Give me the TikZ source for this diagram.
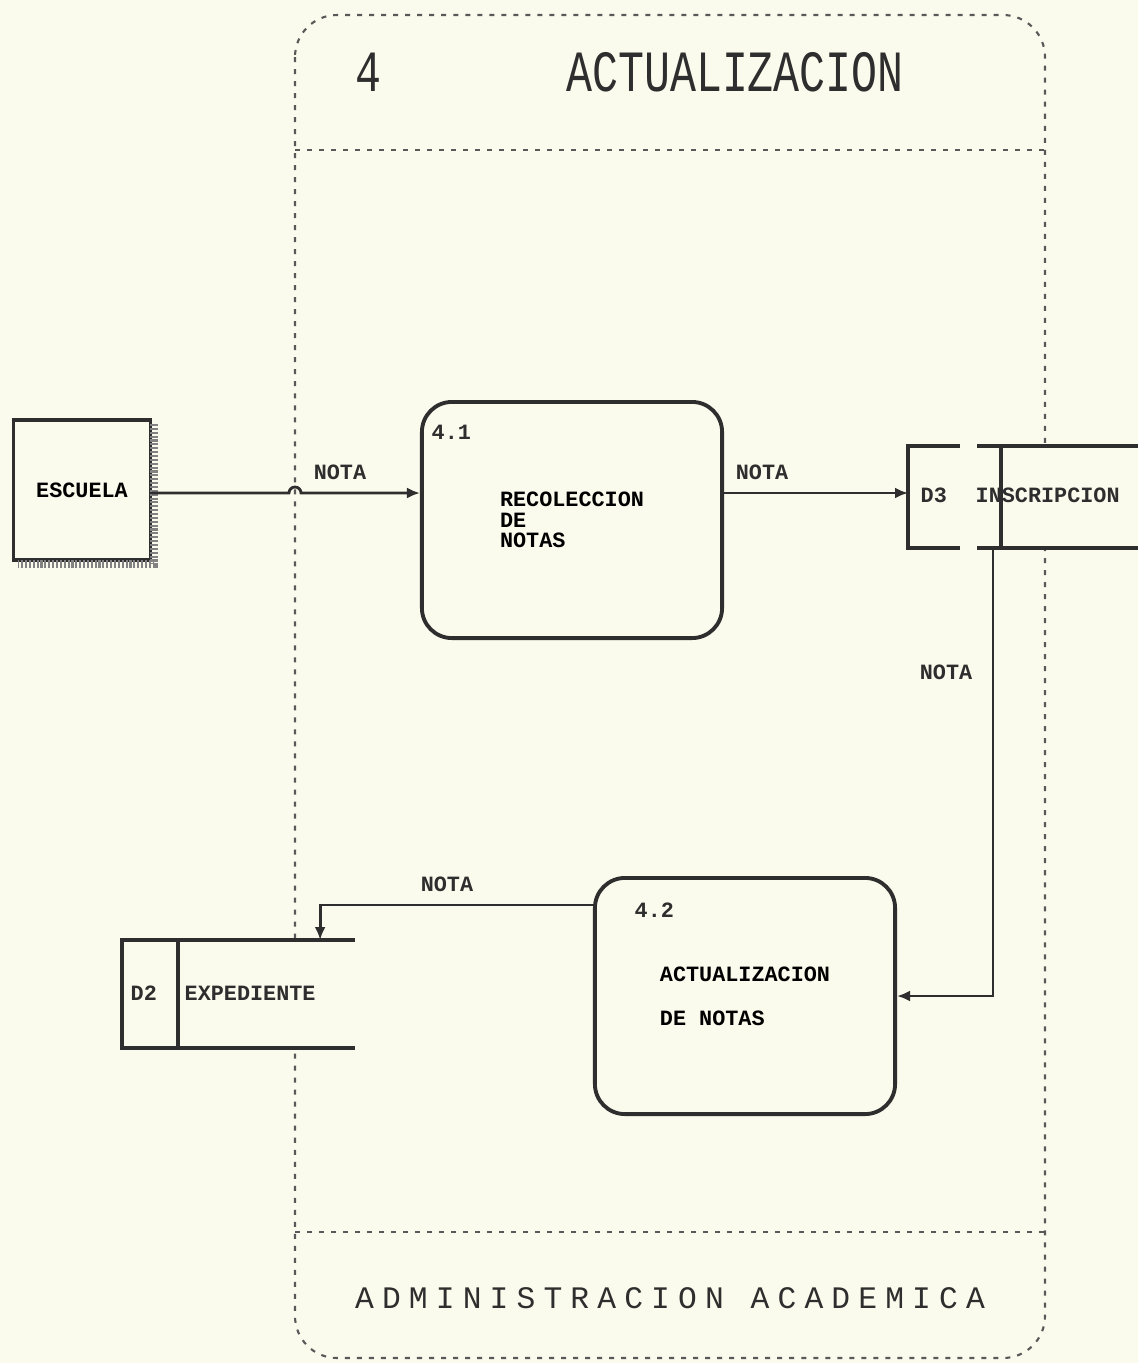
\documentclass[tikz,border=0pt]{standalone}
\usepackage{fontspec}
\setmonofont{Liberation Mono}
\newfontfamily\spacedtt[LetterSpace=26]{Liberation Mono}
\usepackage{xcolor}
\definecolor{paper}{rgb}{0.98,0.98,0.93}
\definecolor{ink}{rgb}{0.18,0.18,0.18}
\definecolor{dashink}{rgb}{0.35,0.35,0.35}
\usetikzlibrary{arrows.meta,positioning}

\begin{document}
\begin{tikzpicture}[x=0.01cm, y=-0.01cm,
      proc/.style={draw=ink, line width=1.1pt, fill=paper, rounded corners=0.3cm,
                   minimum width=3cm, minimum height=2.36cm,
                   font=\ttfamily\bfseries\fontsize{6.2}{5.8}\selectfont, align=left},
      ent/.style={draw=ink, line width=0.9pt, fill=paper,
                  minimum width=1.37cm, minimum height=1.4cm,
                  font=\ttfamily\bfseries\fontsize{6.2}{7}\selectfont},
      store/.style={fill=paper, inner sep=0pt, outer sep=0pt, anchor=north west},
      txt/.style={font=\ttfamily\bfseries\fontsize{6.2}{7}\selectfont, text=ink, inner sep=0pt},
      bound/.style={draw=dashink, line width=0.6pt, dash pattern=on 0.05cm off 0.07cm},
      sline/.style={draw=ink, line width=1.1pt},
      arr/.style={-{Latex[length=0.13cm, width=0.11cm]}, draw=ink, line width=0.8pt}
  ]
    % paper and page size
    \fill[paper] (0,0) rectangle (1138,1363);
    \useasboundingbox (0,0) rectangle (1138,1363);

    % boundary of process 4
    \draw[bound, rounded corners=0.42cm] (295,15) rectangle (1045,1358);
    \draw[bound] (295,150) -- (1045,150);
    \draw[bound] (295,1232) -- (1045,1232);
    \node[inner sep=0pt, text=ink] (num) at (368,72)
      {\scalebox{1}[1.35]{\ttfamily\fontsize{12.3}{14}\selectfont 4}};
    \node[inner sep=0pt, text=ink] (title) at (735,72)
      {\scalebox{1}[1.35]{\ttfamily\fontsize{12.3}{14}\selectfont ACTUALIZACION}};
    \node[inner sep=0pt, text=ink] (dept) at (670,1298)
      {\spacedtt\fontsize{8.9}{10}\selectfont ADMINISTRACION ACADEMICA};

    % external entity
    \node[ent] (esc) at (82,490) {ESCUELA};
    \draw[ink!60, line width=2.2pt, dash pattern=on 0.6pt off 0.5pt]
      (154,424) -- (154,564) -- (18,564);

    % processes
    \node[proc] (p41) at (572,520) {RECOLECCION\\DE\\NOTAS};
    \node[txt, anchor=north west] (n41) at ([xshift=0.11cm, yshift=-0.24cm]p41.north west) {4.1};
    \node[proc, font=\ttfamily\bfseries\fontsize{6.2}{7}\selectfont] (p42) at (745,996)
      {ACTUALIZACION\\[1.7ex]DE NOTAS};
    \node[txt, anchor=north west] (n42) at ([xshift=0.41cm, yshift=-0.26cm]p42.north west) {4.2};

    % data stores
    \node[store, minimum width=2.3cm, minimum height=1.02cm] (d3) at (908,446) {};
    \draw[sline] (d3.north west) ++(52,0) -- (d3.north west) -- (d3.south west) -- ++(52,0);
    \draw[sline] (d3.north west) ++(69,0) -- (d3.north east);
    \draw[sline] (d3.south west) ++(69,0) -- (d3.south east);
    \draw[sline] (d3.north west) ++(93,0) -- ++(0,102);
    \node[txt, anchor=west] (d3id) at (920,495) {D3};
    \node[txt, anchor=west] (d3nm) at (975,495) {INSCRIPCION};

    \node[store, minimum width=2.33cm, minimum height=1.08cm] (d2) at (122,940) {};
    \draw[sline] (d2.north east) -- (d2.north west) -- (d2.south west) -- (d2.south east);
    \draw[sline] (d2.north west) ++(56,0) -- ++(0,108);
    \node[txt, anchor=west] (d2id) at (130,993) {D2};
    \node[txt, anchor=west] (d2nm) at (184,993) {EXPEDIENTE};

    % flows
    \coordinate (hop) at (295,493);
    \draw[arr] (esc.east |- hop) -- ([xshift=-0.06cm]hop)
      arc[start angle=180, end angle=0, radius=0.06cm] -- (p41.west |- hop);
    \node[txt] (f1) at (340,472) {NOTA};

    \draw[arr] (p41.east |- hop) -- (d3.west |- hop);
    \node[txt] (f2) at (762,472) {NOTA};

    \draw[arr] ([xshift=0.85cm]d3.south west) |- (p42.east);
    \node[txt] (f3) at (946,672) {NOTA};

    \draw[arr] ([yshift=-0.29cm]p42.north west) -| ([xshift=1.98cm]d2.north west);
    \node[txt] (f4) at (447,884) {NOTA};
  \end{tikzpicture}
\end{document}
